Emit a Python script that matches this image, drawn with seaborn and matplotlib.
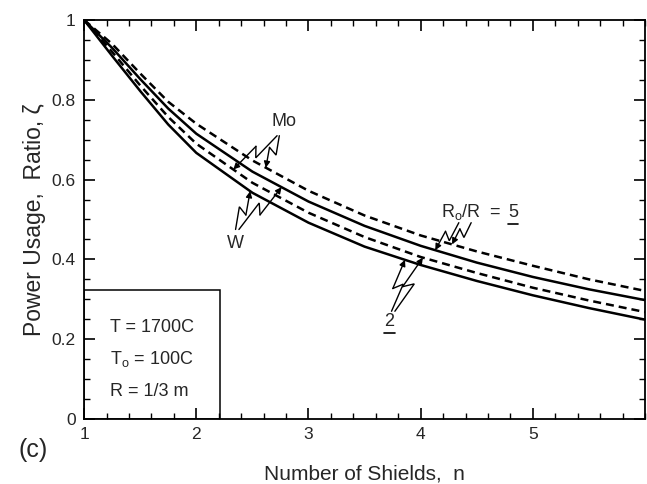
import numpy as np
import pandas as pd
import seaborn as sns
import matplotlib
matplotlib.use("Agg")
import matplotlib.pyplot as plt
from matplotlib.patches import Rectangle
from matplotlib.ticker import MultipleLocator

# Number of shields
n = [1.0, 1.25, 1.5, 1.75, 2.0, 2.5, 3.0, 3.5, 4.0, 4.5, 5.0, 5.5, 6.0]

# Power usage ratio, R_o/R = 5
mo_5 = [1.0, 0.94, 0.866, 0.795, 0.740, 0.648, 0.572, 0.510, 0.460, 0.420, 0.384, 0.350, 0.321]
w_5 = [1.0, 0.93, 0.852, 0.778, 0.715, 0.620, 0.545, 0.484, 0.434, 0.392, 0.356, 0.325, 0.298]
# Power usage ratio, R_o/R = 2
mo_2 = [1.0, 0.92, 0.836, 0.757, 0.690, 0.592, 0.517, 0.456, 0.406, 0.366, 0.329, 0.297, 0.268]
w_2 = [1.0, 0.91, 0.822, 0.738, 0.667, 0.567, 0.492, 0.432, 0.386, 0.346, 0.310, 0.278, 0.249]

conditions = ["T = 1700C", "T$_\\mathregular{o}$ = 100C", "R = 1/3 m"]

frames = []
for name, mat, ratio, vals in [("Mo5", "Mo", 5, mo_5), ("W5", "W", 5, w_5),
                               ("Mo2", "Mo", 2, mo_2), ("W2", "W", 2, w_2)]:
    frames.append(pd.DataFrame({"n": n, "zeta": vals, "curve": name,
                                "material": mat, "ratio": ratio}))
df = pd.concat(frames, ignore_index=True)

sns.set_theme(style="ticks")
plt.rcParams["font.family"] = ["Liberation Sans", "DejaVu Sans"]
plt.rcParams["mathtext.fontset"] = "custom"
plt.rcParams["mathtext.rm"] = "Liberation Sans"

fig = plt.figure(figsize=(6.47, 4.84), dpi=100)
ax = fig.add_axes([0.130, 0.1343, 0.867, 0.8244])

sns.lineplot(data=df, x="n", y="zeta", hue="curve", style="material",
             palette={"Mo5": "black", "W5": "black", "Mo2": "black", "W2": "black"},
             dashes={"Mo": (3.2, 2.0), "W": ""}, linewidth=1.8,
             legend=False, ax=ax, estimator=None, sort=True)

ax.set_xlim(1, 6)
ax.set_ylim(0, 1)
ax.xaxis.set_major_locator(MultipleLocator(1))
ax.xaxis.set_minor_locator(MultipleLocator(0.2))
ax.yaxis.set_major_locator(MultipleLocator(0.2))
ax.yaxis.set_minor_locator(MultipleLocator(0.05))
ax.set_xticks([1, 2, 3, 4, 5])
ax.set_xticklabels(["1", "2", "3", "4", "5"])
ax.set_yticks([0, 0.2, 0.4, 0.6, 0.8, 1.0])
ax.set_yticklabels(["0", "0.2", "0.4", "0.6", "0.8", "1"])
ax.tick_params(which="both", direction="in", top=True, right=True,
               color="black", labelsize=12.5, pad=6)
ax.tick_params(which="major", length=8, width=1.2)
ax.tick_params(which="minor", length=4, width=1.0)
for sp in ax.spines.values():
    sp.set_color("black")
    sp.set_linewidth(1.3)

ax.set_xlabel("Number of Shields,  n", fontsize=15, labelpad=16)
ax.set_ylabel("Power Usage,  Ratio, ζ", fontsize=16.5, labelpad=4)
fig.text(0.029, 0.070, "(c)", fontsize=18, va="center", ha="left")

# Box with operating conditions
ax.add_patch(Rectangle((1, 0), 1.21, 0.323, fill=False, lw=1.1, ec="black", zorder=3))
for i, s in enumerate(conditions):
    ax.text(1.23, 0.23 - i * 0.08, s, fontsize=13, va="center", ha="left")


def bolt(start, end, side=1.0):
    """Draw a lightning-style leader line from start to end (data coords)."""
    to_px = ax.transData.transform
    to_dat = ax.transData.inverted().transform
    s = np.array(to_px(start))
    e = np.array(to_px(end))
    d = e - s
    L = np.hypot(*d)
    u = d / L
    p = np.array([-u[1], u[0]]) * side
    off = min(4.5, 0.15 * L)
    a = s + 0.55 * d + off * p
    b = s + 0.42 * d - off * p
    pts = to_dat(np.array([s, a, b]))
    ax.plot(pts[:, 0], pts[:, 1], color="black", lw=1.0, solid_joinstyle="miter")
    ax.annotate("", xy=end, xytext=tuple(pts[2]),
                arrowprops=dict(arrowstyle="-|>", color="black", lw=1.0,
                                mutation_scale=9, shrinkA=0, shrinkB=0))


def on(series, x):
    return (x, float(np.interp(x, n, series)))


# Material labels
ax.text(2.78, 0.745, "Mo", fontsize=13, ha="center", va="center")
bolt((2.72, 0.71), on(mo_2, 2.33))
bolt((2.74, 0.71), on(mo_5, 2.62))

ax.text(2.35, 0.44, "W", fontsize=13, ha="center", va="center")
bolt((2.35, 0.475), on(w_2, 2.48))
bolt((2.38, 0.475), on(w_5, 2.76))

# Radius ratio labels
ax.text(4.18, 0.518, "R$_\\mathregular{o}$/R  =", fontsize=13, ha="left", va="center")
ax.text(4.78, 0.518, "5", fontsize=13, ha="left", va="center")
ax.plot([4.78, 4.87], [0.488, 0.488], color="black", lw=1.2)
bolt((4.34, 0.492), on(w_5, 4.13))
bolt((4.45, 0.492), on(mo_5, 4.28))

ax.text(3.72, 0.245, "2", fontsize=13, ha="center", va="center")
ax.plot([3.67, 3.77], [0.215, 0.215], color="black", lw=1.2)
bolt((3.74, 0.27), on(w_2, 3.86), side=-1.0)
bolt((3.77, 0.27), on(mo_2, 4.02), side=-1.0)

fig.savefig("out.png", dpi=100)
